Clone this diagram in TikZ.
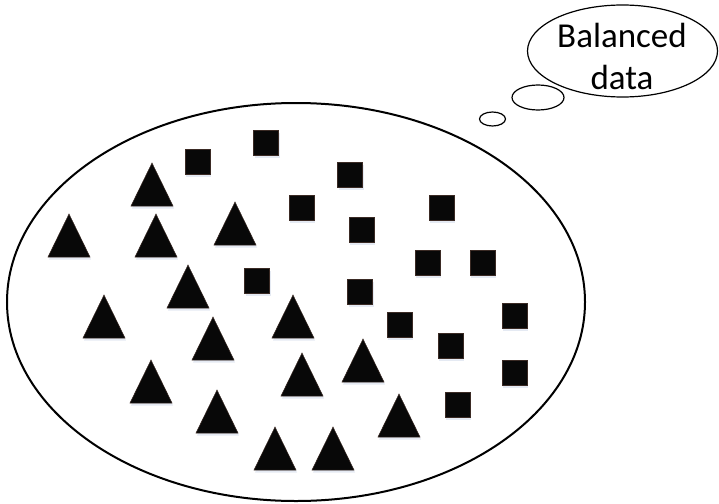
\documentclass[tikz,border=0pt]{standalone}
\usepackage{fontspec}
\setmainfont{Carlito}
\usetikzlibrary{shadows}
\definecolor{markblack}{HTML}{080808}
\definecolor{markedge}{HTML}{3A2A24}
\definecolor{glowblue}{HTML}{B4C2DC}
\tikzset{
  sample box/.style={rectangle,fill=markblack,draw=markedge,line width=0.5pt,
    minimum size=25pt,inner sep=0pt,
    drop shadow={shadow xshift=1pt,shadow yshift=-2.5pt,fill=glowblue,opacity=0.35}},
  sample tri/.style={fill=markblack,draw=markedge,line width=0.5pt,line join=miter,
    drop shadow={shadow xshift=1pt,shadow yshift=-2.5pt,fill=glowblue,opacity=0.35}},
  pool/.style={draw=black,line width=2pt},
  cloud/.style={draw=black,line width=1.2pt,fill=white},
  thought text/.style={align=center,inner sep=0pt,
    font=\fontsize{35}{42}\selectfont}
}

\begin{document}
\begin{tikzpicture}[x=1pt,y=-1pt]
  \useasboundingbox (0,0) rectangle (719,503);
  % data pool
  \coordinate (pool) at (296,302);
  \draw[pool] (pool) ellipse [x radius=289,y radius=199];
  % squares
  \foreach \x/\y [count=\i] in {197.5/161.5,266/143,350/174.5,301.5/207.5,
      441.5/207.5,361.5/229.5,427.5/262.5,482.5/262.5,257/280.5,360/291.5,
      514.5/315.5,399.5/325,450.5/345.5,514.5/372.5,457.5/404.5} {
    \node[sample box] (s\i) at (\x,\y) {};
  }
  % triangles
  \foreach \x/\y [count=\i] in {152/184.5,69/235.5,156/235.5,235/223.5,
      188/286.5,104/316.5,293/316.5,213/338.5,363/360.5,302/374.5,
      151/381.5,217/411.5,399/415.5,275/448.5,333/448.5} {
    \coordinate (t\i) at (\x,\y);
    \path[sample tri] (t\i) ++(0,-21.5) -- ++(21,43) -- ++(-42,0) -- cycle;
  }
  % thought bubble
  \coordinate (puff1) at (492.5,119);
  \coordinate (puff2) at (538,97.5);
  \coordinate (thought) at (622.5,51);
  \draw[cloud] (puff1) ellipse [x radius=13,y radius=7];
  \draw[cloud] (puff2) ellipse [x radius=26,y radius=12.5];
  \draw[cloud] (thought) ellipse [x radius=95,y radius=46];
  \node[thought text] (label) at (622,56) {Balanced\\data};
\end{tikzpicture}
\end{document}
